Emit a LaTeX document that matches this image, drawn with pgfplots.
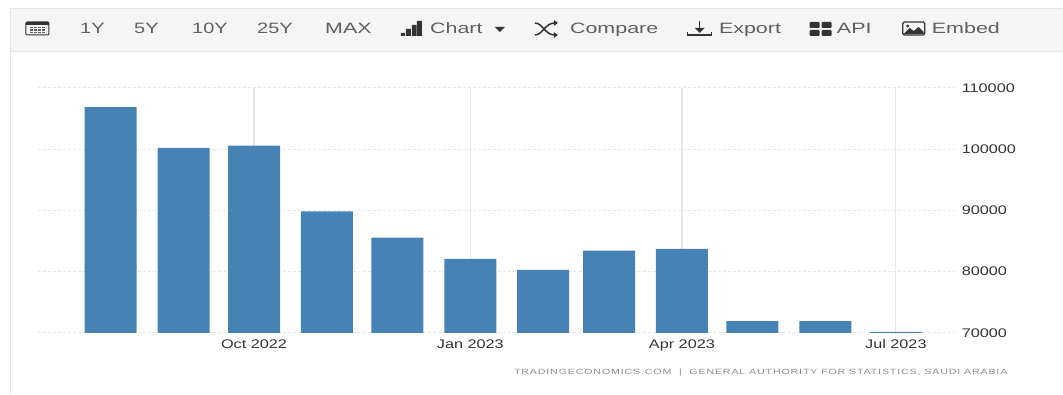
\documentclass[border=0pt]{standalone}
\usepackage{pgfplots}
\usepackage{fontspec}
\setmainfont{Liberation Sans}
\pgfplotsset{compat=1.18}
\definecolor{barblue}{HTML}{4682B4}
\definecolor{toolbar}{HTML}{F5F5F5}
\definecolor{toolbarline}{HTML}{E6E6E6}
\definecolor{toolgrey}{HTML}{5F5F5F}
\definecolor{icon}{HTML}{333333}
\definecolor{gridgrey}{HTML}{E8E8E8}
\definecolor{ticktext}{HTML}{333333}
\definecolor{footer}{HTML}{8C8C8C}

% Monthly totals; x is days counted from 1 Oct 2022
\pgfplotstableread{
day value
-61 106860
-30 100200
0   100580
31  89850
61  85560
92  82080
123 80290
151 83430
182 83710
212 71910
243 71910
273 70160
}\monthly

\begin{document}
\begin{tikzpicture}[x=1pt,y=-1pt,
  tool/.style={font=\fontsize{15}{15}\selectfont,text=toolgrey,inner sep=0pt,anchor=base west,xscale=1.43,transform shape},
  spanbutton/.style={font=\fontsize{15}{15}\selectfont,text=toolgrey,inner sep=0pt,anchor=base west,xscale=1.33,transform shape}]
\path (0,0) rectangle (1063,394);
% toolbar strip and left panel edge
\fill[toolbar] (10,8) rectangle (1063,51);
\draw[toolbarline,line width=0.8pt] (10,8) -- (1063,8);
\draw[toolbarline,line width=0.8pt] (10,51) -- (1063,51);
\draw[toolbarline,line width=0.6pt] (10,8) -- (10,394);
% toolbar labels
\foreach \px/\lab in {80/1Y,134/5Y,192/10Y,257/25Y}
  \node[spanbutton] at (\px,34) {\lab};
\foreach \px/\lab in {325/MAX,430/Chart,570/Compare,719/Export,837/API,932/Embed}
  \node[tool] at (\px,34) {\lab};
% calendar icon
\draw[icon,fill=toolbar,line width=1pt,rounded corners=1pt] (26,22) rectangle (49,35);
\fill[icon] (26,22) rectangle (49,25);
\foreach \ix in {30,34,38,42}\foreach \iy in {27,29.5,32}\fill[toolgrey] (\ix,\iy) rectangle ++(3,1.5);
% bar-chart icon
\fill[icon] (401,33) rectangle ++(4,3) (406,29) rectangle ++(5,7) (412,25) rectangle ++(4.5,11) (417,21) rectangle ++(5,15);
% caret
\fill[icon] (495,27) -- (505,27) -- (500,32) -- cycle;
% shuffle icon
\draw[icon,line width=1.5pt] (535,23) .. controls (543,23) and (545,35) .. (555,35);
\draw[icon,line width=1.5pt] (535,35) .. controls (543,35) and (545,23) .. (555,23);
\fill[icon] (554,20) -- (558,23) -- (554,26) -- cycle (554,32) -- (558,35) -- (554,38) -- cycle;
% export icon
\draw[icon,line width=1.2pt] (688,32) -- (688,35) -- (712,35) -- (712,32);
\draw[icon,line width=1.2pt] (700,21) -- (700,31);
\fill[icon] (695,28) -- (705,28) -- (700,33) -- cycle;
% API icon
\fill[icon,rounded corners=1pt] (810,22) rectangle ++(10,6) (822,22) rectangle ++(10,6) (810,30) rectangle ++(10,6) (822,30) rectangle ++(10,6);
% image icon
\draw[icon,line width=1.2pt,rounded corners=1.5pt] (903,22) rectangle (925,35);
\fill[icon] (904,34) -- (910,28) -- (914,31) -- (919,27) -- (924,32) -- (924,34) -- cycle;
\fill[icon] (908,26) circle (1.6);

\begin{axis}[
  at={(38pt,-333pt)},anchor=south west,
  width=917pt,height=245pt,scale only axis,
  xmin=-91.9,xmax=298,ymin=70000,ymax=110000,
  axis line style={draw=none},
  major tick length=0pt,
  xtick={0,92,182,273},
  xticklabels={Oct 2022,Jan 2023,Apr 2023,Jul 2023},
  ytick={70000,80000,90000,100000,110000},
  yticklabels={70000,80000,90000,100000,110000},
  scaled y ticks=false,
  yticklabel pos=right,
  tick label style={font=\fontsize{12.5}{12.5}\selectfont,text=ticktext,xscale=1.3,transform shape},
  xticklabel style={yshift=-3pt},
  yticklabel style={anchor=west,xshift=2pt},
  xmajorgrids,ymajorgrids,
  x grid style={gridgrey,line width=1.2pt},
  y grid style={gridgrey,line width=1pt,densely dashed},
  clip=false,
]
\addplot[ybar,bar width=52pt,bar shift=0pt,fill=barblue,draw=none] table[x=day,y=value] {\monthly};
\end{axis}
\node[font=\fontsize{7.6}{8}\selectfont,text=footer,anchor=east,inner sep=0pt,xscale=1.4,transform shape] at (1008,373)
  {\addfontfeatures{LetterSpace=8}TRADINGECONOMICS.COM \ |\ \ GENERAL AUTHORITY FOR STATISTICS, SAUDI ARABIA};
\end{tikzpicture}
\end{document}
